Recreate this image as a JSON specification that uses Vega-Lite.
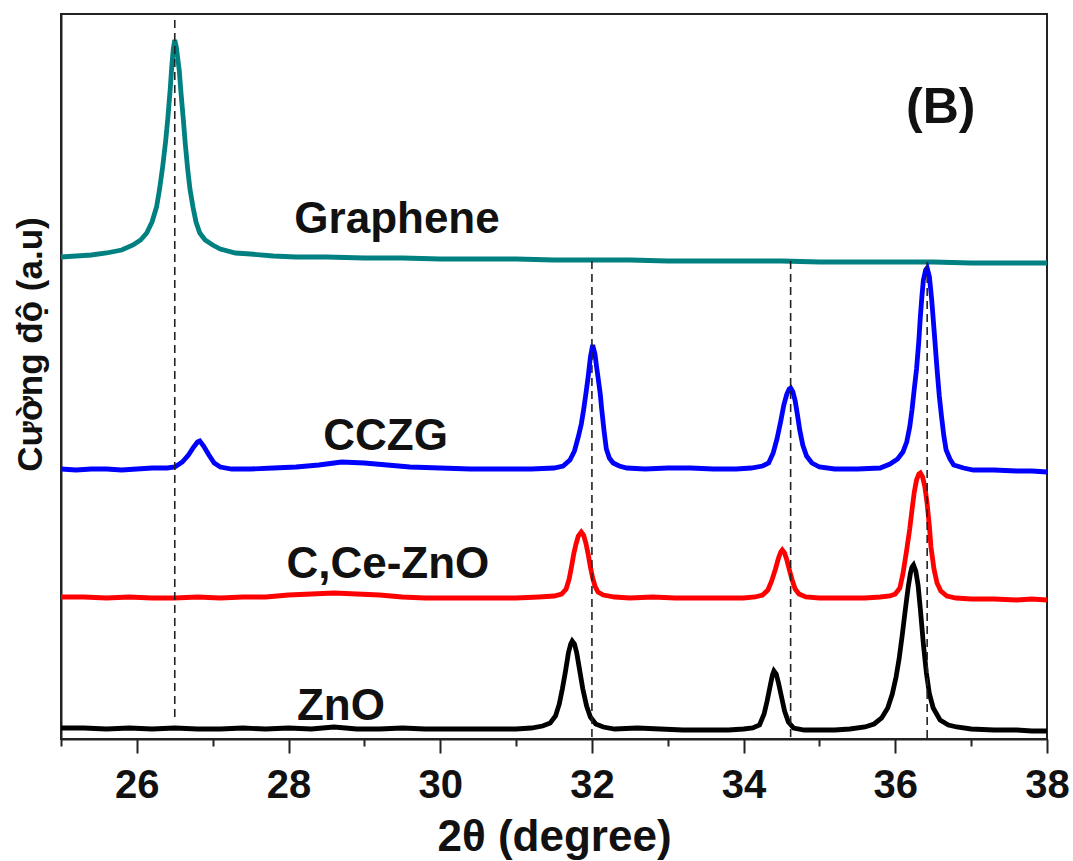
{
  "$schema": "https://vega.github.io/schema/vega-lite/v6.json",
  "width": 986,
  "height": 725,
  "autosize": {"type": "none"},
  "padding": {"left": 61, "top": 14, "right": 26, "bottom": 122},
  "background": "white",
  "config": {
    "view": {"stroke": "#222", "strokeWidth": 2},
    "font": "Liberation Sans"
  },
  "resolve": {"axis": {"x": "independent"}},
  "datasets": {
    "graphene": [
      {"t":25.0,"v":482},{"t":25.2,"v":483},{"t":25.4,"v":484},{"t":25.6,"v":486},{"t":25.8,"v":489},{"t":25.95,"v":494},{"t":26.05,"v":499},{"t":26.13,"v":506},{"t":26.2,"v":517},{"t":26.26,"v":532},{"t":26.3,"v":550},{"t":26.34,"v":572},{"t":26.38,"v":598},{"t":26.41,"v":622},{"t":26.44,"v":650},{"t":26.46,"v":672},{"t":26.48,"v":690},{"t":26.5,"v":699},{"t":26.52,"v":692},{"t":26.54,"v":680},{"t":26.56,"v":668},{"t":26.58,"v":648},{"t":26.61,"v":622},{"t":26.64,"v":594},{"t":26.67,"v":570},{"t":26.7,"v":550},{"t":26.74,"v":532},{"t":26.78,"v":517},{"t":26.83,"v":506},{"t":26.9,"v":499},{"t":27.0,"v":494},{"t":27.1,"v":490},{"t":27.3,"v":486},{"t":27.5,"v":485},{"t":27.8,"v":483},{"t":28.1,"v":482},{"t":28.5,"v":482},{"t":29.0,"v":481},{"t":29.5,"v":481},{"t":30.0,"v":480},{"t":30.5,"v":480},{"t":31.0,"v":480},{"t":31.5,"v":479},{"t":32.0,"v":479},{"t":32.5,"v":479},{"t":33.0,"v":478},{"t":33.5,"v":478},{"t":34.0,"v":478},{"t":34.5,"v":478},{"t":35.0,"v":477},{"t":35.5,"v":477},{"t":36.0,"v":477},{"t":36.5,"v":477},{"t":37.0,"v":476},{"t":37.5,"v":476},{"t":38.0,"v":476}
    ],
    "cczg": [
      {"t":25.0,"v":270},{"t":25.2,"v":269},{"t":25.4,"v":270},{"t":25.6,"v":270},{"t":25.8,"v":269},{"t":26.0,"v":270},{"t":26.2,"v":271},{"t":26.4,"v":271},{"t":26.5,"v":272},{"t":26.6,"v":277},{"t":26.68,"v":284},{"t":26.75,"v":292},{"t":26.8,"v":297},{"t":26.83,"v":298},{"t":26.88,"v":293},{"t":26.95,"v":284},{"t":27.02,"v":276},{"t":27.1,"v":272},{"t":27.25,"v":270},{"t":27.5,"v":270},{"t":27.8,"v":271},{"t":28.1,"v":272},{"t":28.4,"v":274},{"t":28.7,"v":277},{"t":29.0,"v":276},{"t":29.3,"v":274},{"t":29.6,"v":272},{"t":30.0,"v":271},{"t":30.4,"v":270},{"t":30.8,"v":270},{"t":31.2,"v":270},{"t":31.5,"v":271},{"t":31.62,"v":273},{"t":31.71,"v":279},{"t":31.77,"v":288},{"t":31.82,"v":302},{"t":31.86,"v":315},{"t":31.89,"v":329},{"t":31.92,"v":345},{"t":31.95,"v":362},{"t":31.98,"v":382},{"t":32.01,"v":394},{"t":32.04,"v":385},{"t":32.06,"v":373},{"t":32.08,"v":362},{"t":32.11,"v":345},{"t":32.13,"v":329},{"t":32.16,"v":308},{"t":32.19,"v":290},{"t":32.23,"v":281},{"t":32.28,"v":276},{"t":32.36,"v":273},{"t":32.46,"v":271},{"t":32.7,"v":270},{"t":33.0,"v":271},{"t":33.3,"v":271},{"t":33.6,"v":270},{"t":33.9,"v":270},{"t":34.1,"v":271},{"t":34.25,"v":273},{"t":34.33,"v":276},{"t":34.39,"v":286},{"t":34.44,"v":300},{"t":34.49,"v":318},{"t":34.53,"v":334},{"t":34.57,"v":345},{"t":34.6,"v":350},{"t":34.62,"v":351},{"t":34.65,"v":347},{"t":34.68,"v":338},{"t":34.71,"v":324},{"t":34.74,"v":309},{"t":34.78,"v":294},{"t":34.83,"v":283},{"t":34.9,"v":276},{"t":35.0,"v":272},{"t":35.2,"v":270},{"t":35.5,"v":270},{"t":35.8,"v":271},{"t":35.93,"v":275},{"t":36.03,"v":280},{"t":36.1,"v":287},{"t":36.15,"v":297},{"t":36.19,"v":312},{"t":36.22,"v":329},{"t":36.25,"v":350},{"t":36.28,"v":370},{"t":36.31,"v":398},{"t":36.33,"v":422},{"t":36.35,"v":442},{"t":36.37,"v":459},{"t":36.4,"v":469},{"t":36.42,"v":471},{"t":36.45,"v":462},{"t":36.48,"v":439},{"t":36.51,"v":410},{"t":36.55,"v":370},{"t":36.58,"v":343},{"t":36.61,"v":322},{"t":36.64,"v":303},{"t":36.67,"v":289},{"t":36.72,"v":280},{"t":36.77,"v":274},{"t":36.9,"v":271},{"t":37.03,"v":269},{"t":37.3,"v":269},{"t":37.6,"v":268},{"t":37.8,"v":268},{"t":38.0,"v":267}
    ],
    "ccezno": [
      {"t":25.0,"v":142},{"t":25.3,"v":142},{"t":25.6,"v":141},{"t":25.9,"v":142},{"t":26.2,"v":141},{"t":26.5,"v":141},{"t":26.8,"v":142},{"t":27.1,"v":141},{"t":27.4,"v":142},{"t":27.7,"v":142},{"t":28.0,"v":144},{"t":28.3,"v":145},{"t":28.6,"v":146},{"t":28.9,"v":145},{"t":29.2,"v":144},{"t":29.5,"v":142},{"t":29.8,"v":141},{"t":30.1,"v":141},{"t":30.4,"v":141},{"t":30.7,"v":141},{"t":31.0,"v":141},{"t":31.3,"v":142},{"t":31.5,"v":143},{"t":31.6,"v":145},{"t":31.66,"v":150},{"t":31.7,"v":160},{"t":31.73,"v":172},{"t":31.76,"v":185},{"t":31.79,"v":195},{"t":31.82,"v":203},{"t":31.86,"v":207},{"t":31.89,"v":204},{"t":31.92,"v":196},{"t":31.95,"v":185},{"t":31.98,"v":172},{"t":32.01,"v":161},{"t":32.04,"v":153},{"t":32.08,"v":147},{"t":32.15,"v":144},{"t":32.3,"v":142},{"t":32.5,"v":141},{"t":32.8,"v":142},{"t":33.1,"v":141},{"t":33.4,"v":141},{"t":33.7,"v":141},{"t":34.0,"v":141},{"t":34.15,"v":142},{"t":34.25,"v":144},{"t":34.32,"v":149},{"t":34.37,"v":158},{"t":34.42,"v":170},{"t":34.46,"v":181},{"t":34.49,"v":187},{"t":34.51,"v":189},{"t":34.54,"v":186},{"t":34.57,"v":179},{"t":34.6,"v":170},{"t":34.64,"v":159},{"t":34.68,"v":150},{"t":34.73,"v":145},{"t":34.82,"v":142},{"t":35.0,"v":141},{"t":35.3,"v":141},{"t":35.6,"v":141},{"t":35.8,"v":142},{"t":35.93,"v":143},{"t":36.0,"v":145},{"t":36.06,"v":151},{"t":36.1,"v":165},{"t":36.15,"v":189},{"t":36.19,"v":210},{"t":36.22,"v":229},{"t":36.25,"v":247},{"t":36.28,"v":259},{"t":36.31,"v":265},{"t":36.33,"v":266},{"t":36.36,"v":262},{"t":36.39,"v":252},{"t":36.42,"v":235},{"t":36.45,"v":212},{"t":36.47,"v":192},{"t":36.51,"v":170},{"t":36.55,"v":156},{"t":36.6,"v":148},{"t":36.68,"v":143},{"t":36.8,"v":141},{"t":37.0,"v":140},{"t":37.3,"v":140},{"t":37.6,"v":139},{"t":37.8,"v":140},{"t":38.0,"v":139}
    ],
    "zno": [
      {"t":25.0,"v":11},{"t":25.3,"v":11},{"t":25.6,"v":10},{"t":25.9,"v":11},{"t":26.2,"v":10},{"t":26.5,"v":11},{"t":26.8,"v":10},{"t":27.1,"v":10},{"t":27.4,"v":11},{"t":27.7,"v":10},{"t":28.0,"v":11},{"t":28.3,"v":10},{"t":28.6,"v":12},{"t":28.9,"v":10},{"t":29.2,"v":10},{"t":29.5,"v":11},{"t":29.8,"v":10},{"t":30.1,"v":10},{"t":30.4,"v":10},{"t":30.7,"v":10},{"t":31.0,"v":10},{"t":31.2,"v":11},{"t":31.35,"v":13},{"t":31.45,"v":16},{"t":31.52,"v":23},{"t":31.57,"v":35},{"t":31.61,"v":50},{"t":31.65,"v":67},{"t":31.69,"v":86},{"t":31.72,"v":95},{"t":31.74,"v":98},{"t":31.77,"v":95},{"t":31.8,"v":86},{"t":31.84,"v":68},{"t":31.88,"v":50},{"t":31.93,"v":33},{"t":31.98,"v":22},{"t":32.05,"v":15},{"t":32.15,"v":12},{"t":32.3,"v":10},{"t":32.6,"v":11},{"t":32.9,"v":10},{"t":33.2,"v":9},{"t":33.5,"v":9},{"t":33.8,"v":9},{"t":34.0,"v":10},{"t":34.12,"v":11},{"t":34.21,"v":14},{"t":34.27,"v":25},{"t":34.31,"v":38},{"t":34.35,"v":53},{"t":34.38,"v":64},{"t":34.4,"v":68},{"t":34.43,"v":65},{"t":34.46,"v":56},{"t":34.5,"v":42},{"t":34.54,"v":28},{"t":34.59,"v":17},{"t":34.66,"v":11},{"t":34.8,"v":9},{"t":35.0,"v":9},{"t":35.2,"v":9},{"t":35.4,"v":10},{"t":35.6,"v":12},{"t":35.72,"v":15},{"t":35.82,"v":21},{"t":35.9,"v":31},{"t":35.96,"v":45},{"t":36.01,"v":62},{"t":36.05,"v":80},{"t":36.09,"v":103},{"t":36.13,"v":128},{"t":36.17,"v":152},{"t":36.2,"v":166},{"t":36.22,"v":172},{"t":36.24,"v":174},{"t":36.27,"v":168},{"t":36.3,"v":154},{"t":36.33,"v":130},{"t":36.37,"v":95},{"t":36.41,"v":66},{"t":36.45,"v":45},{"t":36.5,"v":31},{"t":36.59,"v":19},{"t":36.7,"v":14},{"t":36.81,"v":12},{"t":37.0,"v":10},{"t":37.3,"v":9},{"t":37.6,"v":9},{"t":37.8,"v":8},{"t":38.0,"v":8}
    ],
    "guides": [
      {"t":26.5,"v":719,"v2":21},
      {"t":32.0,"v":478,"v2":0},
      {"t":34.62,"v":478,"v2":0},
      {"t":36.42,"v":477,"v2":0}
    ],
    "labels": [
      {"t":29.43,"v":506,"text":"Graphene","size":"m"},
      {"t":29.28,"v":289,"text":"CCZG","size":"m"},
      {"t":29.31,"v":161,"text":"C,Ce-ZnO","size":"m"},
      {"t":28.69,"v":19,"text":"ZnO","size":"m"},
      {"t":36.6,"v":616,"text":"(B)","size":"l"}
    ]
  },
  "layer": [
    {
      "data": {"name": "graphene"},
      "mark": {"type": "line", "color": "#008080", "strokeWidth": 4.8},
      "encoding": {
        "x": {
          "field": "t", "type": "quantitative",
          "scale": {"domain": [25, 38], "nice": false, "zero": false},
          "axis": {
            "orient": "bottom",
            "values": [26,28,30,32,34,36,38],
            "format": "d",
            "grid": false,
            "domainColor": "#222", "domainWidth": 2,
            "tickColor": "#222", "tickWidth": 2, "tickSize": 14,
            "labelFont": "Liberation Sans", "labelFontSize": 40, "labelFontWeight": "bold", "labelColor": "#111",
            "labelPadding": 12, "labelFlush": false, "labelOverlap": false,
            "title": "2θ (degree)",
            "titleFont": "Liberation Sans", "titleFontSize": 44, "titleFontWeight": "bold", "titleColor": "#111",
            "titlePadding": 10
          }
        },
        "y": {
          "field": "v", "type": "quantitative",
          "scale": {"domain": [0, 725], "nice": false, "zero": false},
          "axis": {
            "ticks": false, "labels": false, "grid": false,
            "domainColor": "#222", "domainWidth": 2,
            "title": "Cường độ (a.u)",
            "titleFont": "Liberation Sans", "titleFontSize": 35, "titleFontWeight": "bold", "titleColor": "#111",
            "titleX": -31, "titleY": 330, "titleAlign": "center", "titleBaseline": "middle", "titleAngle": -90
          }
        }
      }
    },
    {
      "data": {"name": "cczg"},
      "mark": {"type": "line", "color": "#0000ff", "strokeWidth": 4.8},
      "encoding": {"x": {"field": "t", "type": "quantitative", "axis": null}, "y": {"field": "v", "type": "quantitative"}}
    },
    {
      "data": {"name": "ccezno"},
      "mark": {"type": "line", "color": "#ff0000", "strokeWidth": 4.8},
      "encoding": {"x": {"field": "t", "type": "quantitative", "axis": null}, "y": {"field": "v", "type": "quantitative"}}
    },
    {
      "data": {"name": "zno"},
      "mark": {"type": "line", "color": "#000000", "strokeWidth": 4.8},
      "encoding": {"x": {"field": "t", "type": "quantitative", "axis": null}, "y": {"field": "v", "type": "quantitative"}}
    },
    {
      "data": {"name": "guides"},
      "mark": {"type": "rule", "color": "#222", "strokeWidth": 1.6, "strokeDash": [8, 5]},
      "encoding": {
        "x": {
          "field": "t", "type": "quantitative",
          "axis": {
            "orient": "bottom",
            "values": [25,27,29,31,33,35,37],
            "labels": false, "domain": false, "grid": false, "title": null,
            "tickColor": "#222", "tickWidth": 2, "tickSize": 7
          }
        },
        "y": {"field": "v", "type": "quantitative"},
        "y2": {"field": "v2"}
      }
    },
    {
      "data": {"name": "labels"},
      "transform": [{"filter": "datum.size == 'm'"}],
      "mark": {"type": "text", "font": "Liberation Sans", "fontWeight": "bold", "fontSize": 44, "align": "center", "baseline": "alphabetic", "color": "#111"},
      "encoding": {"x": {"field": "t", "type": "quantitative", "axis": null}, "y": {"field": "v", "type": "quantitative"}, "text": {"field": "text"}}
    },
    {
      "data": {"name": "labels"},
      "transform": [{"filter": "datum.size == 'l'"}],
      "mark": {"type": "text", "font": "Liberation Sans", "fontWeight": "bold", "fontSize": 50, "align": "center", "baseline": "alphabetic", "color": "#111"},
      "encoding": {"x": {"field": "t", "type": "quantitative", "axis": null}, "y": {"field": "v", "type": "quantitative"}, "text": {"field": "text"}}
    }
  ]
}
